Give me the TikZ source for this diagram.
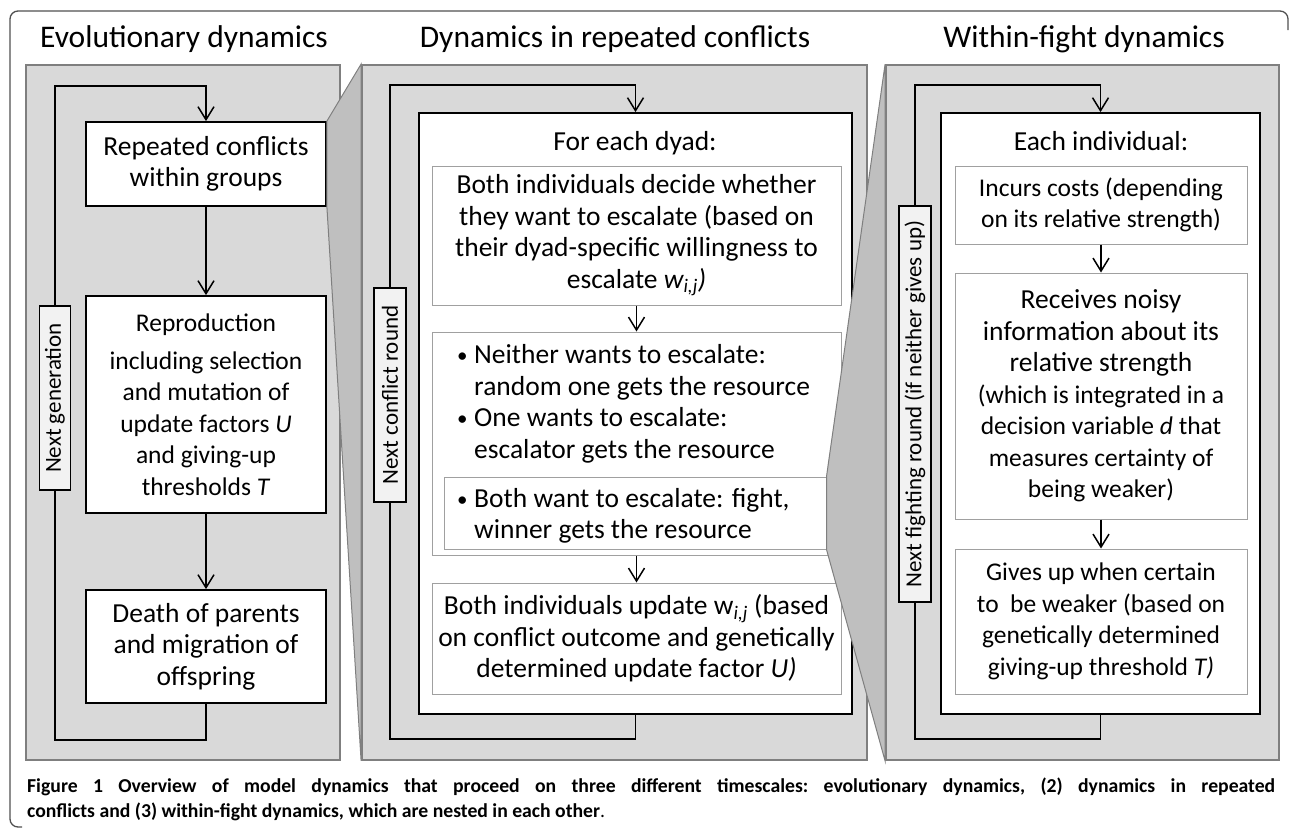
\documentclass[tikz,border=0pt]{standalone}
\usepackage{fontspec}
\setmainfont{Carlito}
\usetikzlibrary{arrows.meta}

\definecolor{panelfill}{HTML}{D9D9D9}
\definecolor{panelline}{HTML}{7F7F7F}
\definecolor{zoomfill}{HTML}{BFBFBF}
\definecolor{boxline}{HTML}{A0A0A0}
\definecolor{labelfill}{HTML}{F2F2F2}
\definecolor{frameline}{HTML}{505050}

\newcommand{\bodyfs}{\fontsize{27.5}{31.5}\selectfont}
\newcommand{\smallfs}{\fontsize{25.5}{31.5}\selectfont}
\newcommand{\titlefs}{\fontsize{31.5}{36}\selectfont}
\newcommand{\labelfs}{\fontsize{23}{28}\selectfont}
\newcommand{\capfs}{\fontsize{19.7}{25}\selectfont}
\newcommand{\itembul}{\makebox[17pt][l]{\raisebox{1pt}{\fontsize{21}{21}\selectfont\textbullet}}}

\begin{document}
\begin{tikzpicture}[x=1pt, y=-1pt,
    panel/.style={rectangle, draw=panelline, fill=panelfill, line width=1.8pt},
    mainbox/.style={rectangle, draw, fill=white, line width=1.8pt, inner sep=0pt, align=center, font=\bodyfs},
    stepbox/.style={rectangle, draw=boxline, fill=white, line width=1pt, inner sep=0pt, align=center, font=\bodyfs},
    roundlabel/.style={rectangle, draw, fill=labelfill, line width=1.5pt, rotate=90, inner sep=0pt, font=\labelfs},
    loopline/.style={line width=1.5pt},
    flow/.style={line width=1.5pt, -{Straight Barb[length=13pt,width=16pt]}},
    zoom/.style={draw=panelline, fill=zoomfill, line width=1pt},
    title/.style={font=\titlefs, inner sep=0pt, anchor=base}]
  \useasboundingbox (0,0) rectangle (1290,830);

  % Frame
  \draw[frameline, line width=1.3pt, rounded corners=8pt] (22,827) -- (10,827) -- (10,11) -- (1288,11) -- (1288,30);

  % Evolutionary dynamics
  \node[panel, minimum width=314pt, minimum height=695pt] (evopanel) at (183,412.5) {};
  \node[title] (evotitle) at (184,47) {Evolutionary dynamics};
  \node[mainbox, minimum width=240pt, minimum height=84pt] (conflicts) at (206,164) {Repeated conflicts\\within groups};
  \node[mainbox, minimum width=240pt, minimum height=217pt, font=\smallfs] (reproduction) at (206,404.5) {Reproduction\\[6pt]including selection\\and mutation of\\update factors \textit{U}\\and giving-up\\thresholds \textit{T}};
  \node[mainbox, minimum width=240pt, minimum height=113pt] (death) at (206,646.5) {Death of parents\\and migration of\\offspring};
  \node[roundlabel, minimum width=184pt, minimum height=31pt] (nextgen) at (55,398) {Next generation};

  \draw[flow] (conflicts) -- (reproduction);
  \draw[flow] (reproduction) -- (death);
  \draw[loopline] (death.south) -- ++(0,36) -| (nextgen.west);
  \draw[flow] (nextgen.east) |- ([yshift=35pt]conflicts.north) -- (conflicts.north);

  % Dynamics in repeated conflicts
  \node[panel, minimum width=505pt, minimum height=695pt] (repanel) at (614.5,412.5) {};
  \filldraw[zoom] (conflicts.north east) -- (repanel.north west) -- (repanel.south west) -- (conflicts.south east) -- cycle;
  \node[title] (reptitle) at (615,47) {Dynamics in repeated conflicts};
  \node[mainbox, minimum width=433pt, minimum height=601pt] (dyads) at (635.5,413.5) {};
  \node[font=\bodyfs, inner sep=0pt, anchor=base] (dyadhead) at (635,150) {For each dyad:};
  \node[stepbox, minimum width=409pt, minimum height=139pt] (decide) at (636.5,235.5) {Both individuals decide whether\\they want to escalate (based on\\their dyad-specific willingness to\\escalate \textit{w\textsubscript{i,j})}};
  \node[stepbox, minimum width=409pt, minimum height=223pt] (outcomes) at (636.5,443.5) {};
  \node[font=\bodyfs, inner sep=0pt, align=left, anchor=west] (nofight) at (457,404) {\itembul Neither wants to escalate:\\\hspace*{17pt}random one gets the resource\\\itembul One wants to escalate:\\\hspace*{17pt}escalator gets the resource};
  \node[stepbox, minimum width=382pt, minimum height=72pt] (fight) at (635,513) {};
  \node[font=\bodyfs, inner sep=0pt, align=left, anchor=west] (fighttext) at (457,516) {\itembul Both want to escalate: fight,\\\hspace*{17pt}winner gets the resource};
  \node[stepbox, minimum width=409pt, minimum height=111pt] (update) at (636.5,638.5) {Both individuals update w\textsubscript{\textit{i,j}} (based\\on conflict outcome and genetically\\determined update factor \textit{U)}};
  \node[roundlabel, minimum width=214pt, minimum height=32pt] (nextconf) at (390,395) {Next conflict round};

  \draw[flow] (decide) -- (outcomes);
  \draw[flow] (outcomes) -- (update);
  \draw[loopline] (dyads.south) -- ++(0,24) -| (nextconf.west);
  \draw[flow] (nextconf.east) |- ([yshift=27pt]dyads.north) -- (dyads.north);

  % Within-fight dynamics
  \node[panel, minimum width=393pt, minimum height=695pt] (fightpanel) at (1082.5,412.5) {};
  \filldraw[zoom] (fight.north east) -- (fightpanel.north west) -- (fightpanel.south west) -- (fight.south east) -- cycle;
  \node[title] (fighttitle) at (1084,47) {Within-fight dynamics};
  \node[mainbox, minimum width=319pt, minimum height=601pt] (indiv) at (1100.5,413.5) {};
  \node[font=\bodyfs, inner sep=0pt, anchor=base] (indivhead) at (1101,150) {Each individual:};
  \node[stepbox, minimum width=292pt, minimum height=78pt, font=\smallfs] (costs) at (1101,205) {Incurs costs (depending\\on its relative strength)};
  \node[stepbox, minimum width=292pt, minimum height=246pt, font=\smallfs] (info) at (1101,396) {\bodyfs Receives noisy\\\bodyfs information about its\\\bodyfs relative strength\\(which is integrated in a\\decision variable \textit{d} that\\measures certainty of\\being weaker)};
  \node[stepbox, minimum width=292pt, minimum height=145pt, font=\smallfs] (giveup) at (1101,621.5) {Gives up when certain\\to\ \ be weaker (based on\\genetically determined\\giving-up threshold \textit{T)}};
  \node[roundlabel, minimum width=396pt, minimum height=32pt] (nextfight) at (915,404) {Next fighting round (if neither gives up)};

  \draw[flow] (costs) -- (info);
  \draw[flow] (info) -- (giveup);
  \draw[loopline] (indiv.south) -- ++(0,24) -| (nextfight.west);
  \draw[flow] (nextfight.east) |- ([yshift=27pt]indiv.north) -- (indiv.north);

  % Caption
  \node[font=\capfs\bfseries\frenchspacing, inner sep=0pt, align=left, anchor=north west] (caption) at (27,778) {\makebox[1248pt][s]{Figure 1 Overview of model dynamics that proceed on three different timescales: evolutionary dynamics, (2) dynamics in repeated}\\conflicts and (3) within-fight dynamics, which are nested in each other{\mdseries .}};
\end{tikzpicture}
\end{document}
